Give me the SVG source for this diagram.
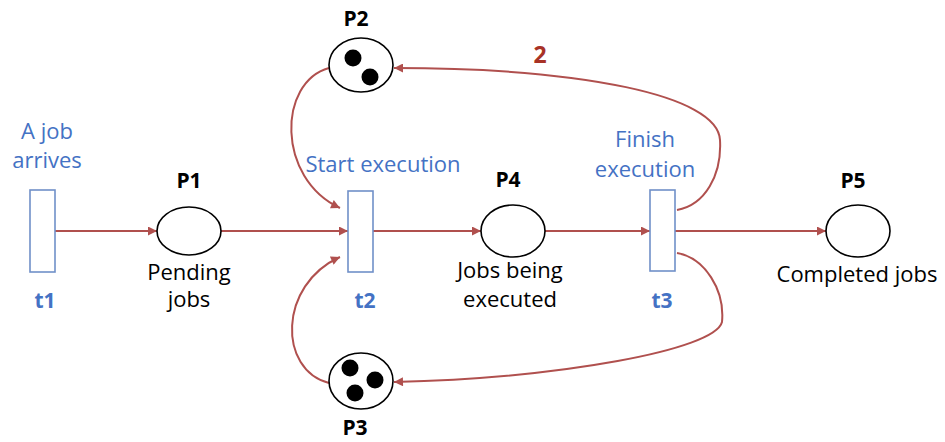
<svg xmlns="http://www.w3.org/2000/svg" width="945" height="442" viewBox="0 0 945 442">
<defs>
<marker id="ah" viewBox="0 0 10 10" refX="10" refY="5" markerWidth="10" markerHeight="9" markerUnits="userSpaceOnUse" orient="auto">
<path d="M0,0 L10,5 L0,10 z" fill="#b0504e"/>
</marker>
<style>
.arc{fill:none;stroke:#b0504e;stroke-width:2;marker-end:url(#ah)}
.pl{fill:#fff;stroke:#000;stroke-width:1.6}
.tr{fill:#fff;stroke:#7090c8;stroke-width:1.6}
.tok{fill:#000}
.lbl{font-family:"Open Sans","Liberation Sans",sans-serif;font-size:22px;fill:#000;text-anchor:middle}
.pn{font-family:"Open Sans","Liberation Sans",sans-serif;font-size:21px;font-weight:bold;fill:#000;text-anchor:middle}
.bl{font-family:"Open Sans","Liberation Sans",sans-serif;font-size:22px;fill:#4472c4;text-anchor:middle}
.tn{font-family:"Open Sans","Liberation Sans",sans-serif;font-size:21px;font-weight:bold;fill:#4472c4;text-anchor:middle}
.w{font-family:"Open Sans","Liberation Sans",sans-serif;font-size:23px;font-weight:bold;fill:#a83226;text-anchor:middle}
</style>
</defs>
<rect width="945" height="442" fill="#fff"/>
<g id="connectors">
<path class="arc" d="M55,231 L157,231"/>
<path class="arc" d="M221,231 L348,231"/>
<path class="arc" d="M373,231 L481,231"/>
<path class="arc" d="M545,231 L650,231"/>
<path class="arc" d="M675,231 L826,231"/>
<path class="arc" d="M329,68 C278,82 276,178 340,208"/>
<path class="arc" d="M329,383 C278,370 278,285 340,257"/>
<path class="arc" d="M677,210 C705,205 722,175 720,140 C718,95 580,68 394,68"/>
<path class="arc" d="M677,253 C705,258 725,290 722,322 C715,350 560,378 394,382"/>
<text class="w" x="540" y="63">2</text>
</g>
<g id="t1">
<rect class="tr" x="30" y="190" width="25" height="82"/>
<text class="bl" x="47" y="139">A job</text>
<text class="bl" x="47" y="168">arrives</text>
<text class="tn" x="45" y="308">t1</text>
</g>
<g id="P1">
<ellipse class="pl" cx="189" cy="231" rx="32" ry="24"/>
<text class="pn" x="189" y="188">P1</text>
<text class="lbl" x="189" y="280">Pending</text>
<text class="lbl" x="189" y="307">jobs</text>
</g>
<g id="P2">
<ellipse class="pl" cx="361" cy="65" rx="32" ry="27"/>
<circle class="tok" cx="353" cy="58" r="8.5"/>
<circle class="tok" cx="370" cy="77" r="8.5"/>
<text class="pn" x="356" y="26">P2</text>
</g>
<g id="t2">
<rect class="tr" x="348" y="191" width="25" height="81"/>
<text class="bl" x="383" y="172">Start execution</text>
<text class="tn" x="365" y="308">t2</text>
</g>
<g id="P3">
<ellipse class="pl" cx="361" cy="381" rx="32" ry="28"/>
<circle class="tok" cx="350" cy="368" r="8.5"/>
<circle class="tok" cx="375" cy="380" r="8.5"/>
<circle class="tok" cx="355" cy="393" r="8.5"/>
<text class="pn" x="355" y="435">P3</text>
</g>
<g id="P4">
<ellipse class="pl" cx="513" cy="231" rx="32" ry="26"/>
<text class="pn" x="508" y="187">P4</text>
<text class="lbl" x="510" y="278">Jobs being</text>
<text class="lbl" x="510" y="307">executed</text>
</g>
<g id="t3">
<rect class="tr" x="650" y="190" width="25" height="81"/>
<text class="bl" x="645" y="147">Finish</text>
<text class="bl" x="645" y="177">execution</text>
<text class="tn" x="662" y="308">t3</text>
</g>
<g id="P5">
<ellipse class="pl" cx="858" cy="231" rx="32" ry="26"/>
<text class="pn" x="853" y="188">P5</text>
<text class="lbl" x="857" y="282">Completed jobs</text>
</g>
</svg>
